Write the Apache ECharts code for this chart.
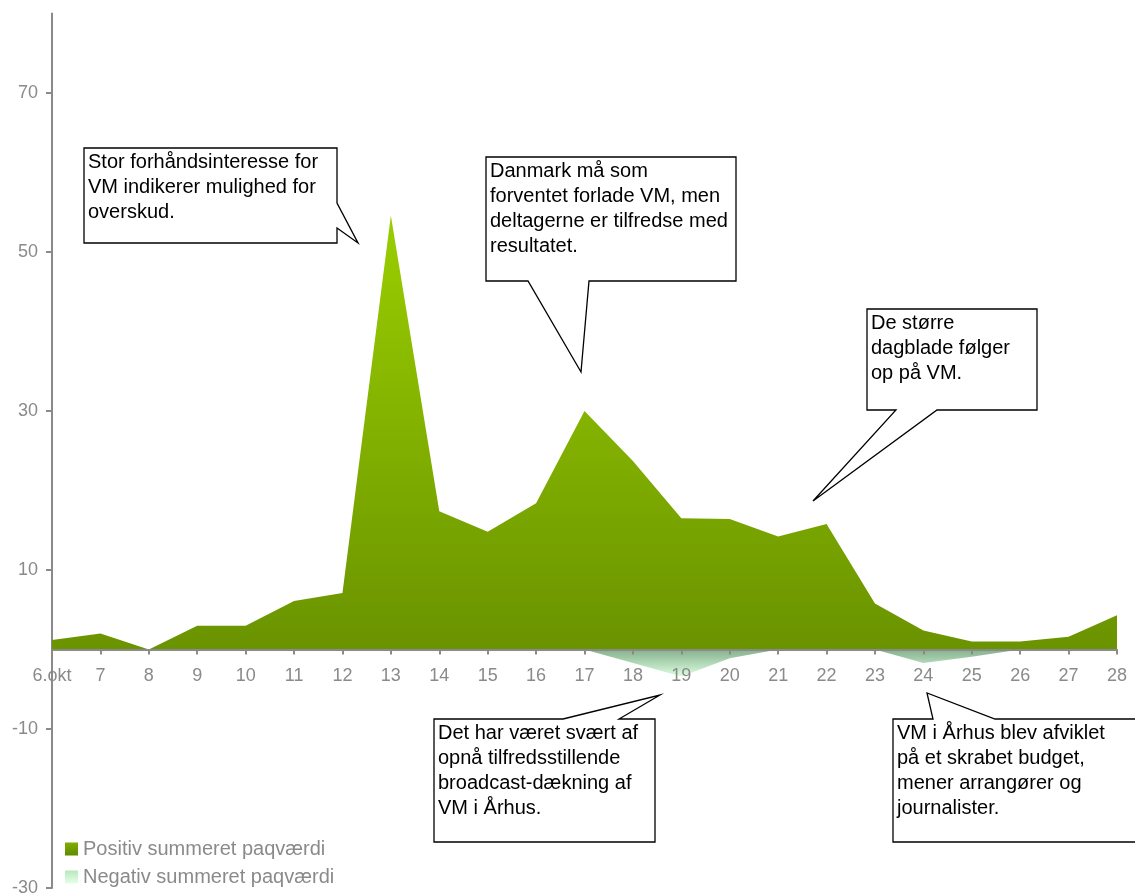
<!DOCTYPE html>
<html>
<head>
<meta charset="utf-8">
<script src="https://cdn.jsdelivr.net/npm/echarts@6/dist/echarts.min.js"></script>
<style>
html,body{margin:0;padding:0;background:#fff;}
#c{width:1135px;height:896px;}
</style>
</head>
<body>
<div id="c"></div>
<script>
// ---- data ----
var categories = ['6.okt','7','8','9','10','11','12','13','14','15','16','17','18','19','20','21','22','23','24','25','26','27','28'];
var positiveValues = [1.2, 2.0, 0, 3.0, 3.0, 6.1, 7.1, 54.6, 17.4, 14.8, 18.4, 30.0, 23.7, 16.5, 16.4, 14.2, 15.8, 5.8, 2.4, 1.0, 1.0, 1.6, 4.3];
var negativeValues = [0, 0, 0, 0, 0, 0, 0, 0, 0, 0, 0, 0, -1.7, -3.4, -1.1, 0, 0, 0, -1.7, -0.9, 0, 0, 0];
var yTicks = [-30, -10, 10, 30, 50, 70];
var yMin = -30, yMax = 80;
var seriesNames = ['Positiv summeret paqværdi', 'Negativ summeret paqværdi'];
var notes = [
  'Stor forhåndsinteresse for\nVM indikerer mulighed for\noverskud.',
  'Danmark må som\nforventet forlade VM, men\ndeltagerne er tilfredse med\nresultatet.',
  'De større\ndagblade følger\nop på VM.',
  'Det har været svært af\nopnå tilfredsstillende\nbroadcast-dækning af\nVM i Århus.',
  'VM i Århus blev afviklet\npå et skrabet budget,\nmener arrangører og\njournalister.'
];

var FONT = "'Liberation Sans', Arial, Helvetica, sans-serif";
var GRAY = '#8a8a8a';

function grad(a, b) {
  return new echarts.graphic.LinearGradient(0, 0, 0, 1, [{offset: 0, color: a}, {offset: 1, color: b}]);
}

// callout outlines (annotation layout)
var callouts = [
  {pts: [[84,148],[337,148],[337,203],[358,243],[337,228],[337,243],[84,243]], tx: 88, ty: 150},
  {pts: [[486,157],[736,157],[736,281],[589,281],[581,372],[528,281],[486,281]], tx: 490, ty: 159},
  {pts: [[867,309],[1037,309],[1037,410],[937,410],[813,501],[896,410],[867,410]], tx: 871, ty: 311},
  {pts: [[434,719],[563,719],[660,695],[619,719],[655,719],[655,842],[434,842]], tx: 438, ty: 721},
  {pts: [[893,719],[933,719],[927,693],[995,719],[1140,719],[1140,842],[893,842]], tx: 897, ty: 721}
];

var graphics = [];
callouts.forEach(function (c, i) {
  graphics.push({
    type: 'polygon', z: 100,
    shape: {points: c.pts},
    style: {fill: '#fff', stroke: '#000', lineWidth: 1.3}
  });
  graphics.push({
    type: 'text', z: 101, x: c.tx, y: c.ty,
    style: {text: notes[i], font: '20px ' + FONT, fill: '#000', lineHeight: 25, verticalAlign: 'top', align: 'left'}
  });
});

var chart = echarts.init(document.getElementById('c'), null, {renderer: 'canvas'});
chart.setOption({
  animation: false,
  backgroundColor: '#fff',
  textStyle: {fontFamily: FONT},
  grid: {left: 52, right: 18, top: 13.5, bottom: 8, containLabel: false, outerBoundsMode: 'none'},
  legend: {
    orient: 'vertical', left: 65, top: 839, padding: 0,
    itemWidth: 13, itemHeight: 13, itemGap: 8,
    icon: 'rect',
    textStyle: {color: GRAY, fontSize: 20},
    data: seriesNames
  },
  xAxis: {
    type: 'category', data: categories, boundaryGap: false, position: 'bottom', offset: 0,
    axisLine: {onZero: false, lineStyle: {color: GRAY, width: 2}},
    axisTick: {show: true, length: 5, lineStyle: {color: GRAY, width: 2}},
    axisLabel: {show: true, color: GRAY, fontSize: 18, margin: 18, interval: 0, hideOverlap: false},
    splitLine: {show: false},
    z: 5
  },
  yAxis: {
    type: 'value', min: yMin, max: yMax, interval: 20,
    axisLine: {show: true, onZero: false, lineStyle: {color: GRAY, width: 2}},
    axisTick: {show: true, length: 6, lineStyle: {color: GRAY, width: 2}, customValues: yTicks},
    axisLabel: {color: GRAY, fontSize: 18, margin: 14, customValues: yTicks},
    splitLine: {show: false}
  },
  series: [
    {
      name: seriesNames[0], type: 'line', data: positiveValues,
      showSymbol: false, symbol: 'none',
      lineStyle: {width: 0},
      itemStyle: {color: grad('#80b000', '#5e8a00')},
      areaStyle: {color: grad('#9bce00', '#6a9300'), opacity: 1}
    },
    {
      name: seriesNames[1], type: 'line', data: negativeValues,
      showSymbol: false, symbol: 'none',
      lineStyle: {width: 0},
      itemStyle: {color: grad('#b8e8bc', '#e6ffe8')},
      areaStyle: {color: grad('#86b08e', '#dcffe0'), opacity: 1}
    }
  ],
  graphic: graphics
});

// move the category axis (line, ticks and labels) up to the zero value of the y scale
var zeroY = chart.convertToPixel({yAxisIndex: 0}, 0);
var bottomY = chart.convertToPixel({yAxisIndex: 0}, yMin);
chart.setOption({xAxis: {offset: -(bottomY - zeroY)}});
</script>
</body>
</html>
